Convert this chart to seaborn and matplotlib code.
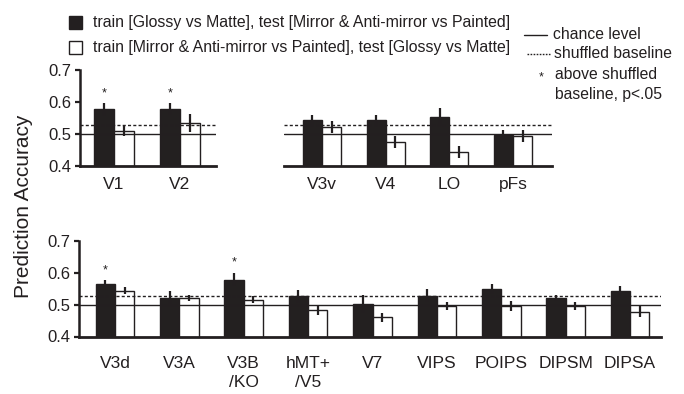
import numpy as np
import pandas as pd
import matplotlib
matplotlib.use("Agg")
import matplotlib.pyplot as plt
import seaborn as sns
from matplotlib.patches import Rectangle
from matplotlib.lines import Line2D

# ---------------- data ----------------
tl_rois = ["V1", "V2"]
tl_glossy = [0.576, 0.577]
tl_glossy_err = [0.019, 0.018]
tl_mirror = [0.508, 0.534]
tl_mirror_err = [0.016, 0.028]
tl_sig = [True, True]

tr_rois = ["V3v", "V4", "LO", "pFs"]
tr_glossy = [0.542, 0.542, 0.553, 0.495]
tr_glossy_err = [0.018, 0.018, 0.028, 0.016]
tr_mirror = [0.521, 0.474, 0.442, 0.492]
tr_mirror_err = [0.020, 0.019, 0.018, 0.018]
tr_sig = [False, False, False, False]

b_rois = ["V3d", "V3A", "V3B\n/KO", "hMT+\n/V5", "V7", "VIPS", "POIPS", "DIPSM", "DIPSA"]
b_glossy = [0.566, 0.521, 0.579, 0.526, 0.502, 0.528, 0.549, 0.520, 0.542]
b_glossy_err = [0.011, 0.021, 0.021, 0.021, 0.029, 0.021, 0.017, 0.010, 0.016]
b_mirror = [0.544, 0.521, 0.516, 0.482, 0.460, 0.495, 0.495, 0.495, 0.478]
b_mirror_err = [0.010, 0.010, 0.010, 0.014, 0.014, 0.012, 0.015, 0.013, 0.017]
b_sig = [True, False, True, False, False, False, False, False, False]

chance_level = 0.5
shuffled_baseline = 0.527
yticks = [0.4, 0.5, 0.6, 0.7]
ytick_labels = ["0.4", "0.5", "0.6", "0.7"]

cond_a = "train [Glossy vs Matte], test [Mirror & Anti-mirror vs Painted]"
cond_b = "train [Mirror & Anti-mirror vs Painted], test [Glossy vs Matte]"

# ---------------- style ----------------
sns.set_style("ticks")
plt.rcParams["font.family"] = ["Liberation Sans", "DejaVu Sans"]
DARK = "#231f20"
plt.rcParams["text.color"] = DARK
plt.rcParams["axes.edgecolor"] = DARK
plt.rcParams["xtick.color"] = DARK
plt.rcParams["ytick.color"] = DARK

W, H = 684, 394
fig = plt.figure(figsize=(W / 100, H / 100), dpi=100)


def rect(x0, x1, ytop, ybot):
    return [x0 / W, 1 - ybot / H, (x1 - x0) / W, (ybot - ytop) / H]


def panel(ax, rois, g, ge, m, me, sig, xlim, left_spine=True, xpad=5):
    n = len(rois)
    df = pd.DataFrame({
        "roi": list(rois) * 2,
        "acc": list(g) + list(m),
        "cond": [cond_a] * n + [cond_b] * n,
    })
    sns.barplot(data=df, x="roi", y="acc", hue="cond", order=list(rois),
                hue_order=[cond_a, cond_b],
                palette={cond_a: DARK, cond_b: "white"},
                edgecolor=DARK, linewidth=1.0, width=0.6, errorbar=None,
                legend=False, ax=ax, zorder=1)
    bars = ax.patches
    xa = np.array([b.get_x() + b.get_width() / 2 for b in bars[:n]])
    xb = np.array([b.get_x() + b.get_width() / 2 for b in bars[n:2 * n]])
    ax.axhline(chance_level, color=DARK, lw=1.0, zorder=2)
    ax.axhline(shuffled_baseline, color=DARK, lw=1.0, ls=(0, (2.2, 1.6)), zorder=2)
    g = np.array(g); ge = np.array(ge); m = np.array(m); me = np.array(me)
    ax.vlines(xa, g - ge, g + ge, color=DARK, lw=1.6, zorder=3)
    ax.vlines(xb, m - me, m + me, color=DARK, lw=1.6, zorder=3)
    for x, top, s in zip(xa, g + ge, sig):
        if s:
            ax.annotate("*", xy=(x, top), xytext=(0, 5), textcoords="offset points",
                        ha="center", va="baseline", fontsize=9, color=DARK)
    ax.set_xlim(*xlim)
    ax.set_ylim(0.4, 0.7)
    ax.set_xlabel("")
    ax.set_ylabel("")
    ax.spines["top"].set_visible(False)
    ax.spines["right"].set_visible(False)
    ax.spines["bottom"].set_linewidth(2.0)
    ax.tick_params(axis="x", length=0, labelsize=12.5, pad=xpad)
    if left_spine:
        ax.spines["left"].set_linewidth(1.8)
        ax.spines["left"].set_bounds(0.4, 0.7)
        ax.set_yticks(yticks)
        ax.set_yticklabels(ytick_labels)
        ax.tick_params(axis="y", length=3.5, width=1.6, labelsize=12, pad=2.5)
    else:
        ax.spines["left"].set_visible(False)
        ax.set_yticks([])
    ax.set_facecolor("none")


ax_tl = fig.add_axes(rect(80, 216, 70, 165.5))
ax_tr = fig.add_axes(rect(284, 552, 70, 165.5))
ax_b = fig.add_axes(rect(79, 661, 241, 336.5))

panel(ax_tl, tl_rois, tl_glossy, tl_glossy_err, tl_mirror, tl_mirror_err, tl_sig,
      (-0.515, 1.545), left_spine=True, xpad=8)
panel(ax_tr, tr_rois, tr_glossy, tr_glossy_err, tr_mirror, tr_mirror_err, tr_sig,
      (-0.597, 3.613), left_spine=False, xpad=8)
panel(ax_b, b_rois, b_glossy, b_glossy_err, b_mirror, b_mirror_err, b_sig,
      (-0.559, 8.48), left_spine=True, xpad=14)
for lab in ax_b.get_xticklabels():
    lab.set_linespacing(1.3)

# y label
fig.text(24 / W, 1 - 206 / H, "Prediction Accuracy", rotation=90, ha="center",
         va="center", fontsize=15, color=DARK)


def fx(x):
    return x / W


def fy(y):
    return 1 - y / H


# legend (left)
fig.add_artist(Rectangle((fx(68.5), fy(28.5)), 13 / W, 12.5 / H, transform=fig.transFigure,
                         facecolor=DARK, edgecolor=DARK, lw=1))
fig.add_artist(Rectangle((fx(68.5), fy(53.5)), 13 / W, 12.5 / H, transform=fig.transFigure,
                         facecolor="white", edgecolor=DARK, lw=1))
fig.text(fx(93), fy(27), cond_a, fontsize=11.4, va="baseline", ha="left")
fig.text(fx(93), fy(52), cond_b, fontsize=11.4, va="baseline", ha="left")

# legend (right)
fig.add_artist(Line2D([fx(524), fx(547)], [fy(35), fy(35)], transform=fig.transFigure,
                      color=DARK, lw=1.0))
fig.add_artist(Line2D([fx(527), fx(550)], [fy(54), fy(54)], transform=fig.transFigure,
                      color=DARK, lw=1.0, ls=(0, (1.2, 1.0))))
fig.text(fx(553), fy(39), "chance level", fontsize=11.3, va="baseline", ha="left")
fig.text(fx(554), fy(58), "shuffled baseline", fontsize=11.3, va="baseline", ha="left")
fig.text(fx(541), fy(80), "*", fontsize=9, va="baseline", ha="center")
fig.text(fx(555), fy(79), "above shuffled", fontsize=11.3, va="baseline", ha="left")
fig.text(fx(555), fy(99), "baseline, p<.05", fontsize=11.3, va="baseline", ha="left")

fig.savefig("out.png", dpi=100, facecolor="white")
